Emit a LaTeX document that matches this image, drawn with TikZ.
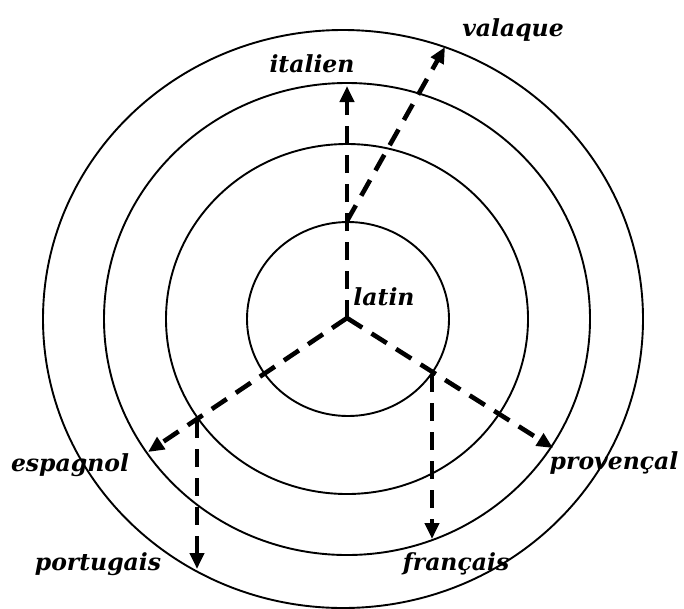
\documentclass[tikz,border=0pt]{standalone}
\usepackage{fontspec}
\setmainfont{DejaVu Serif}
\usetikzlibrary{arrows.meta}
\tikzset{
  ring/.style={draw=black, line width=1.9pt},
  flow/.style={draw=black, line width=4.6pt, dash pattern=on 18pt off 11pt,
    -{Triangle[length=16pt,width=14pt]}},
  lang/.style={font=\fontsize{23.5}{28}\selectfont\bfseries\itshape, inner sep=0pt, anchor=base}
}
\begin{document}
\begin{tikzpicture}[x=1pt,y=-1pt]
\useasboundingbox (0,0) rectangle (684,608);
% rings
\draw[ring] (348,319) ellipse [x radius=101pt, y radius=97pt];
\draw[ring] (347,319) ellipse [x radius=181pt, y radius=175pt];
\draw[ring] (347,319) ellipse [x radius=243pt, y radius=236pt];
\draw[ring] (343,319) ellipse [x radius=300pt, y radius=289pt];
% coordinates
\coordinate (c) at (347,318);
\coordinate (it) at (347,86);
\coordinate (vs) at (347,221);
\coordinate (vt) at (445,47);
\coordinate (et) at (148,452);
\coordinate (pt) at (553,448);
\coordinate (ps) at (197,420);
\coordinate (pe) at (197,569);
\coordinate (fs) at (432,374);
\coordinate (fe) at (432,539);
% connectors
\draw[flow] (c) -- (it);
\draw[flow] (vs) -- (vt);
\draw[flow] (c) -- (et);
\draw[flow] (c) -- (pt);
\draw[flow] (ps) -- (pe);
\draw[flow] (fs) -- (fe);
% labels
\node[lang] (valaque) at (513,36) {valaque};
\node[lang] (italien) at (312,72) {italien};
\node[lang] (latin) at (384,305) {latin};
\node[lang] (espagnol) at (70,471) {espagnol};
\node[lang] (portugais) at (98,570) {portugais};
\node[lang] (provencal) at (614,469) {provençal};
\node[lang] (francais) at (456,570) {français};
\end{tikzpicture}
\end{document}
